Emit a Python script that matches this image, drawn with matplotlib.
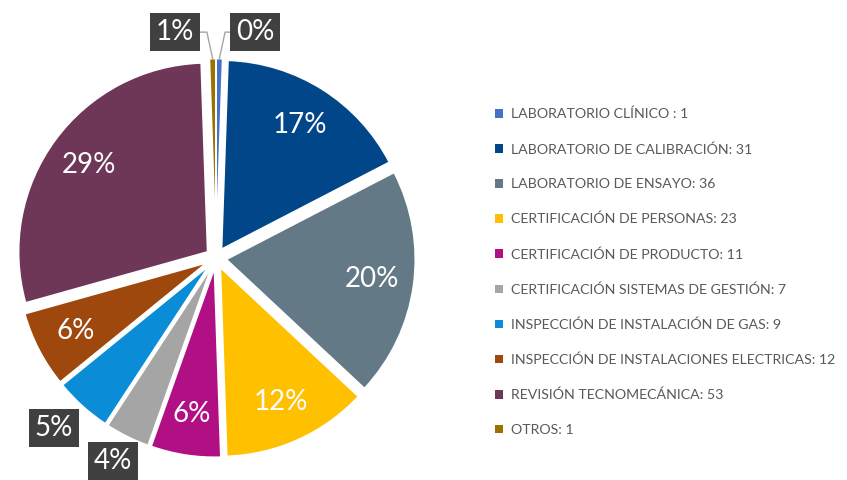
import numpy as np
import matplotlib
matplotlib.use("Agg")
import matplotlib.pyplot as plt

# ---- datos ----
categorias = [
    "LABORATORIO CLÍNICO ",
    "LABORATORIO DE CALIBRACIÓN",
    "LABORATORIO DE ENSAYO",
    "CERTIFICACIÓN DE PERSONAS",
    "CERTIFICACIÓN DE PRODUCTO",
    "CERTIFICACIÓN SISTEMAS DE GESTIÓN",
    "INSPECCIÓN DE INSTALACIÓN DE GAS",
    "INSPECCIÓN DE INSTALACIONES ELECTRICAS",
    "REVISIÓN TECNOMECÁNICA",
    "OTROS",
]
valores = [1, 31, 36, 23, 11, 7, 9, 12, 53, 1]
etiquetas_pct = ["0%", "17%", "20%", "12%", "6%", "4%", "5%", "6%", "29%", "1%"]
colores = ["#4472C4", "#02468A", "#637A86", "#FFC000", "#B10F84",
           "#A5A5A5", "#0A8DD6", "#9E480E", "#6E3657", "#997300"]

plt.rcParams["font.family"] = ["Lato", "DejaVu Sans"]

fig = plt.figure(figsize=(8.47, 4.8), dpi=100)

# pie: centro en (216, 258) px, radio en px
R = 189
lim = 1.12
cx, cy = 216, 480 - 258
ax = fig.add_axes([(cx - lim * R) / 847, (cy - lim * R) / 480,
                   2 * lim * R / 847, 2 * lim * R / 480])

wedges, _ = ax.pie(valores, colors=colores, startangle=90, counterclock=False,
                   explode=[0.055] * len(valores), radius=1,
                   wedgeprops=dict(edgecolor="white", linewidth=1.2))
ax.set_xlim(-lim, lim)
ax.set_ylim(-lim, lim)
ax.set_aspect("equal")

# etiquetas fuera del pastel (indice -> posicion)
fuera = {0: (0.207, 1.195), 9: (-0.217, 1.195), 6: (-0.857, -0.90), 5: (-0.545, -1.075)}

for i, w in enumerate(wedges):
    ang = np.deg2rad((w.theta1 + w.theta2) / 2)
    x0, y0 = w.center
    if i in fuera:
        tx, ty = fuera[i]
        ax.text(tx, ty, etiquetas_pct[i], ha="center", va="center", color="white",
                fontsize=20, bbox=dict(boxstyle="square,pad=0.22", fc="#404040", ec="none"))
        if i in (0, 9):
            ex = x0 + np.cos(ang) * 1.0
            ey = y0 + np.sin(ang) * 1.0
            edge = tx - 0.13 if tx > 0 else tx + 0.13
            mid = ex + (0.03 if tx > 0 else -0.03)
            ax.plot([edge, mid, ex], [ty, ty, ey], color="#A6A6A6", lw=1, clip_on=False)
    else:
        d = 0.78
        ax.text(x0 + d * np.cos(ang), y0 + d * np.sin(ang), etiquetas_pct[i],
                ha="center", va="center", color="white", fontsize=20)

leyenda = [f"{c}: {v}" for c, v in zip(categorias, valores)]
leg = fig.legend(wedges, leyenda, loc="center left", bbox_to_anchor=(488 / 847, 208 / 480),
                 frameon=False, fontsize=10.2, labelcolor="#595959",
                 handlelength=0.55, handleheight=0.55, handletextpad=0.55,
                 labelspacing=1.6, borderpad=0)
for h in leg.legend_handles:
    h.set_edgecolor("none")

fig.savefig("out.png", dpi=100)
